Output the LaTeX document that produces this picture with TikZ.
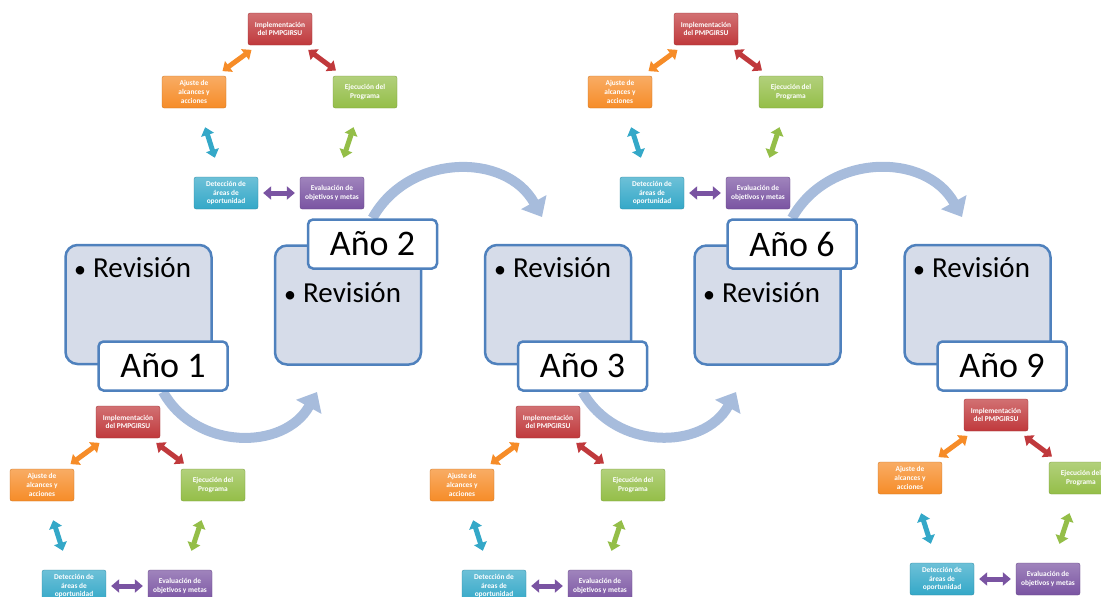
\documentclass[tikz,border=0pt]{standalone}
\usepackage{fontspec}
\setmainfont{Carlito}
\usepackage{tikz}
\usetikzlibrary{arrows.meta,backgrounds}
\definecolor{yearline}{RGB}{79,129,189}
\definecolor{yearfill}{RGB}{214,220,233}
\definecolor{flowblue}{RGB}{167,188,220}
\definecolor{impred}{RGB}{192,57,60}
\definecolor{ajuorange}{RGB}{246,140,40}
\definecolor{ejegreen}{RGB}{148,190,72}
\definecolor{detblue}{RGB}{52,168,200}
\definecolor{evapurple}{RGB}{122,84,162}
\newcommand{\revitem}{\makebox[19pt][l]{\fontsize{24}{24}\selectfont\textbullet}Revisión}

\begin{document}
\begin{tikzpicture}[
  x=1pt,y=1pt,
  revbox/.style={draw=yearline,line width=2.5pt,rounded corners=12pt,fill=yearfill,minimum width=146pt,minimum height=119pt},
  yearbox/.style={draw=yearline,line width=2.5pt,rounded corners=5pt,fill=white,minimum width=129pt,minimum height=49pt,font=\fontsize{36}{40}\selectfont},
  revtext/.style={anchor=base west,inner sep=0pt,font=\fontsize{29}{32}\selectfont},
  stepbox/.style={rounded corners=2pt,top color=#1!72!white,bottom color=#1,draw=#1!80!black,line width=0.3pt,text=white,align=center,minimum width=64pt,minimum height=32pt,inner sep=1pt,font=\fontsize{7.4}{8.6}\selectfont\bfseries},
  flow/.style={draw=flowblue,line width=10pt,-{Triangle[width=28pt,length=17pt]}},
  dbl/.style={line width=5pt,{Triangle[width=13pt,length=8pt]}-{Triangle[width=13pt,length=8pt]}}
]
\useasboundingbox (0,0) rectangle (1101,-597);
\clip (0,0) rectangle (1101,-597);

% year boxes
\node[revbox] (rev1) at (138.5,-304.5) {};
\node[yearbox] (anio1) at (163,-366) {Año 1};
\node[revtext] at (74,-277) {\revitem};

\node[revbox] (rev2) at (348,-305) {};
\node[yearbox] (anio2) at (372.5,-244) {Año 2};
\node[revtext] at (284,-302) {\revitem};

\node[revbox] (rev3) at (558,-304.5) {};
\node[yearbox] (anio3) at (582.5,-366) {Año 3};
\node[revtext] at (494,-277) {\revitem};

\node[revbox] (rev6) at (767.5,-305) {};
\node[yearbox] (anio6) at (792,-244) {Año 6};
\node[revtext] at (703,-302) {\revitem};

\node[revbox] (rev9) at (977.5,-304.5) {};
\node[yearbox] (anio9) at (1002,-366) {Año 9};
\node[revtext] at (913,-277) {\revitem};

% big curved arrows behind the boxes
\coordinate (tip1) at (317,-392);
\coordinate (tip2) at (542,-217);
\coordinate (tip3) at (736,-392);
\coordinate (tip6) at (962,-217);
\begin{scope}[on background layer]
  \draw[flow] (anio1.south) to[out=-61,in=-119,looseness=1.12] (tip1);
  \draw[flow] (anio2.north) to[out=61,in=119,looseness=1.12] (tip2);
  \draw[flow] (anio3.south) to[out=-61,in=-119,looseness=1.12] (tip3);
  \draw[flow] (anio6.north) to[out=61,in=119,looseness=1.12] (tip6);
\end{scope}

% the five small cycles
\foreach \c/\dx/\dy in {a/0/0,b/426/0,c/-152/-393,d/268/-393,e/716/-386}{
  \begin{scope}[shift={(\dx,\dy)}]
    \node[stepbox=impred] (imp\c) at (280,-29) {Implementación\\del PMPGIRSU};
    \node[stepbox=ajuorange] (aju\c) at (194,-92) {Ajuste de\\alcances y\\acciones};
    \node[stepbox=ejegreen] (eje\c) at (365,-92) {Ejecución del\\Programa};
    \node[stepbox=detblue] (det\c) at (226,-193) {Detección de\\áreas de\\oportunidad};
    \node[stepbox=evapurple] (eva\c) at (332,-193) {Evaluación de\\objetivos y metas};
    \draw[dbl,ajuorange,shorten <=8pt,shorten >=8pt] (aju\c) -- (imp\c);
    \draw[dbl,impred,shorten <=8pt,shorten >=9pt] (imp\c) -- (eje\c);
    \draw[dbl,detblue,shorten <=20pt,shorten >=20pt] (aju\c) -- (det\c);
    \draw[dbl,ejegreen,shorten <=20pt,shorten >=20pt] (eje\c) -- (eva\c);
    \draw[dbl,evapurple,shorten <=5pt,shorten >=5pt] (det\c) -- (eva\c);
  \end{scope}
}
\end{tikzpicture}
\end{document}
